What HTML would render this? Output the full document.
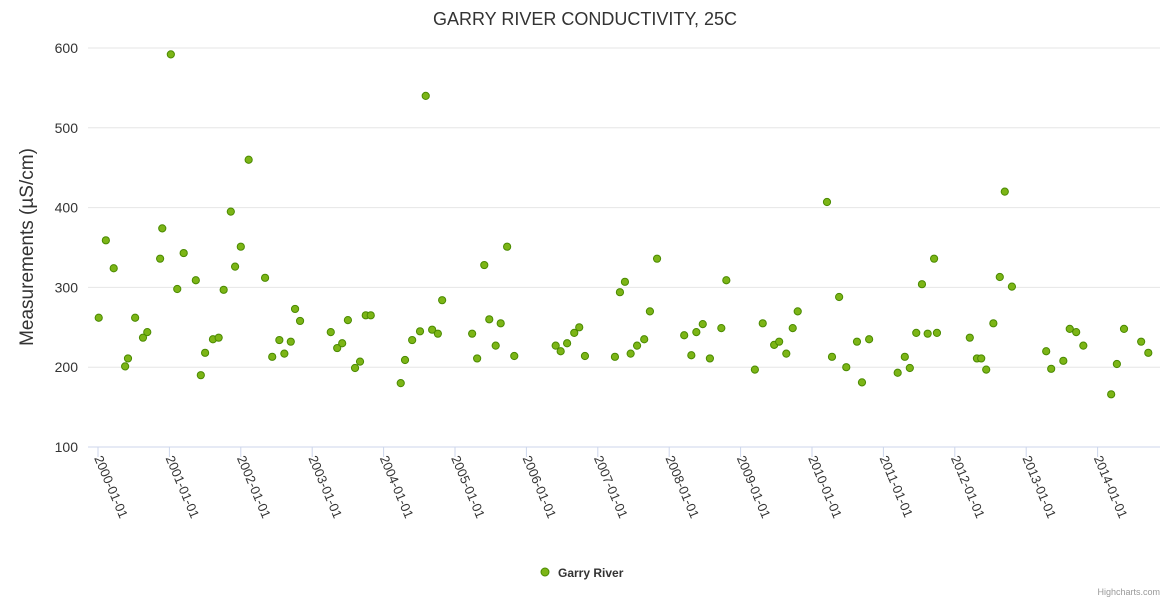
<!DOCTYPE html>
<html><head><meta charset="utf-8"><style>
body{margin:0;background:#fff;font-family:"Liberation Sans","DejaVu Sans",sans-serif;}
svg{display:block}
</style></head><body>
<svg id="chart" width="1170" height="600">
<rect width="1170" height="600" fill="#fff"/>
<text x="585" y="25" text-anchor="middle" font-size="18" fill="#333">GARRY RIVER CONDUCTIVITY, 25C</text>
<text transform="translate(33,247) rotate(-90)" text-anchor="middle" font-size="19" fill="#333">Measurements (µS/cm)</text>
<g id="grid"></g><g id="xaxis"></g><g id="pts"></g>
<g>
<circle cx="545" cy="572" r="4" fill="#7cb516" stroke="#4a8a00" stroke-width="1"/>
<text x="558" y="577" font-size="12" font-weight="bold" fill="#333">Garry River</text>
</g>
<text x="1160" y="595" text-anchor="end" font-size="9" fill="#999">Highcharts.com</text>
</svg>
<script>
const yTicks=[100,200,300,400,500,600];
const xTickLabels=["2000-01-01","2001-01-01","2002-01-01","2003-01-01","2004-01-01","2005-01-01","2006-01-01","2007-01-01","2008-01-01","2009-01-01","2010-01-01","2011-01-01","2012-01-01","2013-01-01","2014-01-01"];
const yearsSince2000=[0.01,0.11,0.22,0.38,0.42,0.52,0.63,0.69,0.87,0.90,1.02,1.11,1.20,1.37,1.44,1.50,1.61,1.69,1.76,1.86,1.92,2.00,2.11,2.34,2.44,2.54,2.61,2.70,2.76,2.83,3.26,3.35,3.42,3.50,3.60,3.67,3.75,3.82,4.24,4.30,4.40,4.51,4.59,4.68,4.76,4.82,5.24,5.31,5.41,5.48,5.57,5.64,5.73,5.83,6.41,6.48,6.57,6.67,6.74,6.82,7.24,7.31,7.38,7.46,7.55,7.65,7.73,7.83,8.21,8.31,8.38,8.47,8.57,8.73,8.80,9.20,9.31,9.47,9.54,9.64,9.73,9.80,10.21,10.28,10.38,10.48,10.63,10.70,10.80,11.20,11.30,11.37,11.46,11.54,11.62,11.71,11.75,12.21,12.31,12.37,12.44,12.54,12.63,12.70,12.80,13.28,13.35,13.52,13.61,13.70,13.80,14.19,14.27,14.37,14.61,14.71];
const values=[262,359,324,201,211,262,237,244,336,374,592,298,343,309,190,218,235,237,297,395,326,351,460,312,213,234,217,232,273,258,244,224,230,259,199,207,265,265,180,209,234,245,540,247,242,284,242,211,328,260,227,255,351,214,227,220,230,243,250,214,213,294,307,217,227,235,270,336,240,215,244,254,211,249,309,197,255,228,232,217,249,270,407,213,288,200,232,181,235,193,213,199,243,304,242,336,243,237,211,211,197,255,313,420,301,220,198,208,248,244,227,166,204,248,232,218];
const NS="http://www.w3.org/2000/svg";
const X0=88,X1=1160,Y0=447,Y1=48;
function xs(t){return 98+t*71.4;}
function ys(v){return Y0-(v-100)/500*(Y0-Y1);}
function mk(tag,at,parent){const e=document.createElementNS(NS,tag);for(const k in at)e.setAttribute(k,at[k]);parent.appendChild(e);return e;}
const grid=document.getElementById('grid');
yTicks.forEach(v=>{
 const l=mk('line',{x1:X0,x2:X1,y1:ys(v),y2:ys(v),stroke:v===100?'#ccd6eb':'#e6e6e6','stroke-width':1},grid);
 
 
 const t=mk('text',{x:78,y:ys(v)+5,'text-anchor':'end','font-size':14,fill:'#333'},grid);
 t.textContent=v;
 
 
});
const xa=document.getElementById('xaxis');
xTickLabels.forEach((s,i)=>{
 const x=xs(i);
 const l=mk('line',{x1:x,x2:x,y1:Y0,y2:Y0+10,stroke:'#ccd6eb'},xa);
 
 
 const t=mk('text',{transform:`translate(${x-4},${Y0+11}) rotate(67)`,'font-size':13,fill:'#333'},xa);
 t.textContent=s;
 
 
});
const pts=document.getElementById('pts');
values.forEach((v,i)=>{
 const c=mk('circle',{cx:xs(yearsSince2000[i]),cy:ys(v),r:3.6,fill:'#7cb516',stroke:'#4a8a00','stroke-width':1},pts);
 
 
});
</script>
</body></html>
